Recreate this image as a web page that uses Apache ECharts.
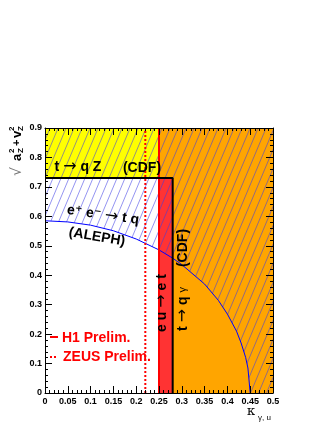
<!DOCTYPE html>
<html>
<head>
<meta charset="utf-8">
<script src="https://cdn.jsdelivr.net/npm/echarts@6/dist/echarts.min.js"></script>
<style>
html, body { margin: 0; padding: 0; background: #fff; }
#chart { width: 327px; height: 423px; }
</style>
</head>
<body>
<div id="chart"></div>
<script>
// ALEPH e+e- -> tq limit curve
const alephKappa = [0, 0.05, 0.10, 0.15, 0.20, 0.25, 0.28, 0.30, 0.35, 0.38, 0.40, 0.42, 0.43, 0.44, 0.445, 0.45]
const alephCoupling = [0.585, 0.581, 0.570, 0.551, 0.523, 0.486, 0.458, 0.436, 0.370, 0.315, 0.268, 0.210, 0.170, 0.121, 0.085, 0]

// single limits
const zeusKappa = 0.22
const h1Kappa = 0.25
const cdfGammaKappa = 0.28
const cdfZCoupling = 0.73

const xMax = 0.5
const yMax = 0.9

const FONT = '"Liberation Sans", "DejaVu Sans", sans-serif'
const B14 = 'bold 14px ' + FONT
const ARROW = '16px "DejaVu Sans"'

function hatch(w, h, color) {
  const c = document.createElement('canvas')
  c.width = w; c.height = h
  const ctx = c.getContext('2d')
  ctx.strokeStyle = color
  ctx.lineWidth = 1
  for (const k of [-1, 0, 1]) {
    ctx.beginPath(); ctx.moveTo(k * w, h); ctx.lineTo(k * w + w, 0); ctx.stroke()
  }
  return c
}

function box(x0, y0, x1, y1, color) {
  return [{ xAxis: x0, yAxis: y0, itemStyle: { color } }, { xAxis: x1, yAxis: y1 }]
}

// text with a long thin arrow in the middle, "{a|..}{r|→}{a|..}"
function arrowText(x, y, rotation, text, extraRich) {
  return {
    type: 'text', x, y, rotation, z: 20,
    style: {
      text, align: 'center', verticalAlign: 'middle',
      rich: Object.assign({ a: { font: B14, fill: '#000' }, r: { font: ARROW, fill: '#000' } }, extraRich || {})
    }
  }
}

const aleph = alephKappa.map((k, i) => [k, alephCoupling[i]])

function axisCommon(pos, labels) {
  const isX = pos === 'bottom' || pos === 'top'
  return {
    type: 'value', position: pos, z: 10,
    min: 0, max: isX ? xMax : yMax, interval: isX ? 0.05 : 0.1,
    axisLine: { show: true, onZero: false, lineStyle: { color: '#000', width: 1 } },
    axisTick: { show: true, inside: true, length: 7, lineStyle: { color: '#000' } },
    minorTick: { show: true, splitNumber: 5, length: 3, lineStyle: { color: '#000' } },
    splitLine: { show: false },
    axisLabel: { show: labels, margin: isX ? 4 : 3, color: '#000', fontSize: 9, fontWeight: 'bold', fontFamily: FONT }
  }
}

const chart = echarts.init(document.getElementById('chart'), null, { renderer: 'canvas' })

chart.setOption({
  animation: false,
  grid: { left: 45, right: 54, top: 128, bottom: 30 },
  xAxis: [axisCommon('bottom', true), axisCommon('top', false)],
  yAxis: [axisCommon('left', true), axisCommon('right', false)],
  series: [
    {
      type: 'line', data: [], z: 1,
      markArea: {
        silent: true,
        data: [
          box(0, cdfZCoupling, h1Kappa, yMax, '#ffff00'),
          box(h1Kappa, cdfZCoupling, xMax, yMax, '#ffa500'),
          box(cdfGammaKappa, 0, xMax, cdfZCoupling, '#ffa500'),
          box(h1Kappa, 0, cdfGammaKappa, cdfZCoupling, '#ff3333')
        ]
      }
    },
    {
      type: 'line', z: 2, showSymbol: false, silent: true,
      data: aleph.concat([[xMax, 0]]),
      lineStyle: { width: 0 },
      areaStyle: { origin: 'end', opacity: 1, color: { image: hatch(8, 19, 'rgba(60,60,230,0.55)'), repeat: 'repeat' } }
    },
    {
      type: 'line', z: 3, showSymbol: false, silent: true, data: aleph,
      lineStyle: { color: '#0000ff', width: 1 }
    },
    {
      type: 'line', z: 4, showSymbol: false, silent: true,
      data: [[zeusKappa, 0], [zeusKappa, yMax]],
      lineStyle: { color: '#ff0000', width: 2, type: [2, 2] }
    },
    {
      type: 'line', z: 4, showSymbol: false, silent: true,
      data: [[h1Kappa, 0], [h1Kappa, yMax]],
      lineStyle: { color: '#ff0000', width: 2 }
    },
    {
      type: 'line', z: 5, showSymbol: false, silent: true,
      data: [[0, cdfZCoupling], [cdfGammaKappa, cdfZCoupling], [cdfGammaKappa, 0]],
      lineStyle: { color: '#000', width: 2 }
    }
  ],
  graphic: [
    arrowText(78, 167, 0, '{a|t }{r|→}{a| q Z}'),
    { type: 'text', x: 142, y: 168, z: 20, style: { text: '(CDF)', font: B14, fill: '#000', align: 'center', verticalAlign: 'middle' } },
    arrowText(103, 215, -0.14, '{a|e⁺ e⁻ }{r|→}{a| t q}'),
    { type: 'text', x: 97, y: 237, rotation: -0.17, z: 20, style: { text: '(ALEPH)', font: B14, fill: '#000', align: 'center', verticalAlign: 'middle' } },
    arrowText(162, 303, Math.PI / 2, '{a|e u }{r|→}{a| e t}'),
    { type: 'text', x: 183, y: 248, rotation: Math.PI / 2, z: 20, style: { text: '(CDF)', font: B14, fill: '#000', align: 'center', verticalAlign: 'middle' } },
    arrowText(183, 309, Math.PI / 2, '{a|t }{r|→}{a| q }{g|γ}', { g: { font: '11px ' + FONT, fill: '#000' } }),
    { type: 'line', z: 20, shape: { x1: 50, y1: 337, x2: 58, y2: 337 }, style: { stroke: '#ff0000', lineWidth: 2 } },
    { type: 'text', x: 62, y: 338, z: 20, style: { text: 'H1 Prelim.', font: B14, fill: '#ff0000', align: 'left', verticalAlign: 'middle' } },
    { type: 'line', z: 20, shape: { x1: 50, y1: 357, x2: 58, y2: 357 }, style: { stroke: '#ff0000', lineWidth: 2, lineDash: [2, 2] } },
    { type: 'text', x: 63, y: 357, z: 20, style: { text: 'ZEUS Prelim.', font: B14, fill: '#ff0000', align: 'left', verticalAlign: 'middle' } },
    // y axis title: sqrt(a_Z^2 + v_Z^2)
    { type: 'group', x: 17, y: 176, rotation: Math.PI / 2, z: 20, children: [
      { type: 'text', x: 0, y: 0, style: { text: '√', font: '14px "DejaVu Sans"', fill: '#777', align: 'left', verticalAlign: 'middle' } },
      { type: 'text', x: 15, y: 0, style: { text: 'a', font: 'bold 13px ' + FONT, fill: '#000', align: 'left', verticalAlign: 'middle' } },
      { type: 'text', x: 23, y: -5, style: { text: '2', font: 'bold 8px ' + FONT, fill: '#000', align: 'left', verticalAlign: 'middle' } },
      { type: 'text', x: 23, y: 4, style: { text: 'Z', font: 'bold 8px ' + FONT, fill: '#000', align: 'left', verticalAlign: 'middle' } },
      { type: 'text', x: 30, y: 0, style: { text: '+', font: 'bold 11px ' + FONT, fill: '#000', align: 'left', verticalAlign: 'middle' } },
      { type: 'text', x: 38, y: 0, style: { text: 'v', font: 'bold 13px ' + FONT, fill: '#000', align: 'left', verticalAlign: 'middle' } },
      { type: 'text', x: 45, y: -5, style: { text: '2', font: 'bold 8px ' + FONT, fill: '#000', align: 'left', verticalAlign: 'middle' } },
      { type: 'text', x: 45, y: 4, style: { text: 'Z', font: 'bold 8px ' + FONT, fill: '#000', align: 'left', verticalAlign: 'middle' } }
    ] },
    // x axis title: kappa_{gamma,u}
    { type: 'text', x: 247, y: 412, z: 20, style: { text: 'κ', font: '13px "DejaVu Serif"', fill: '#000', align: 'left', verticalAlign: 'middle' } },
    { type: 'text', x: 258, y: 418, z: 20, style: { text: 'γ, u', font: '8px ' + FONT, fill: '#000', align: 'left', verticalAlign: 'middle' } }
  ]
})
</script>
</body>
</html>
